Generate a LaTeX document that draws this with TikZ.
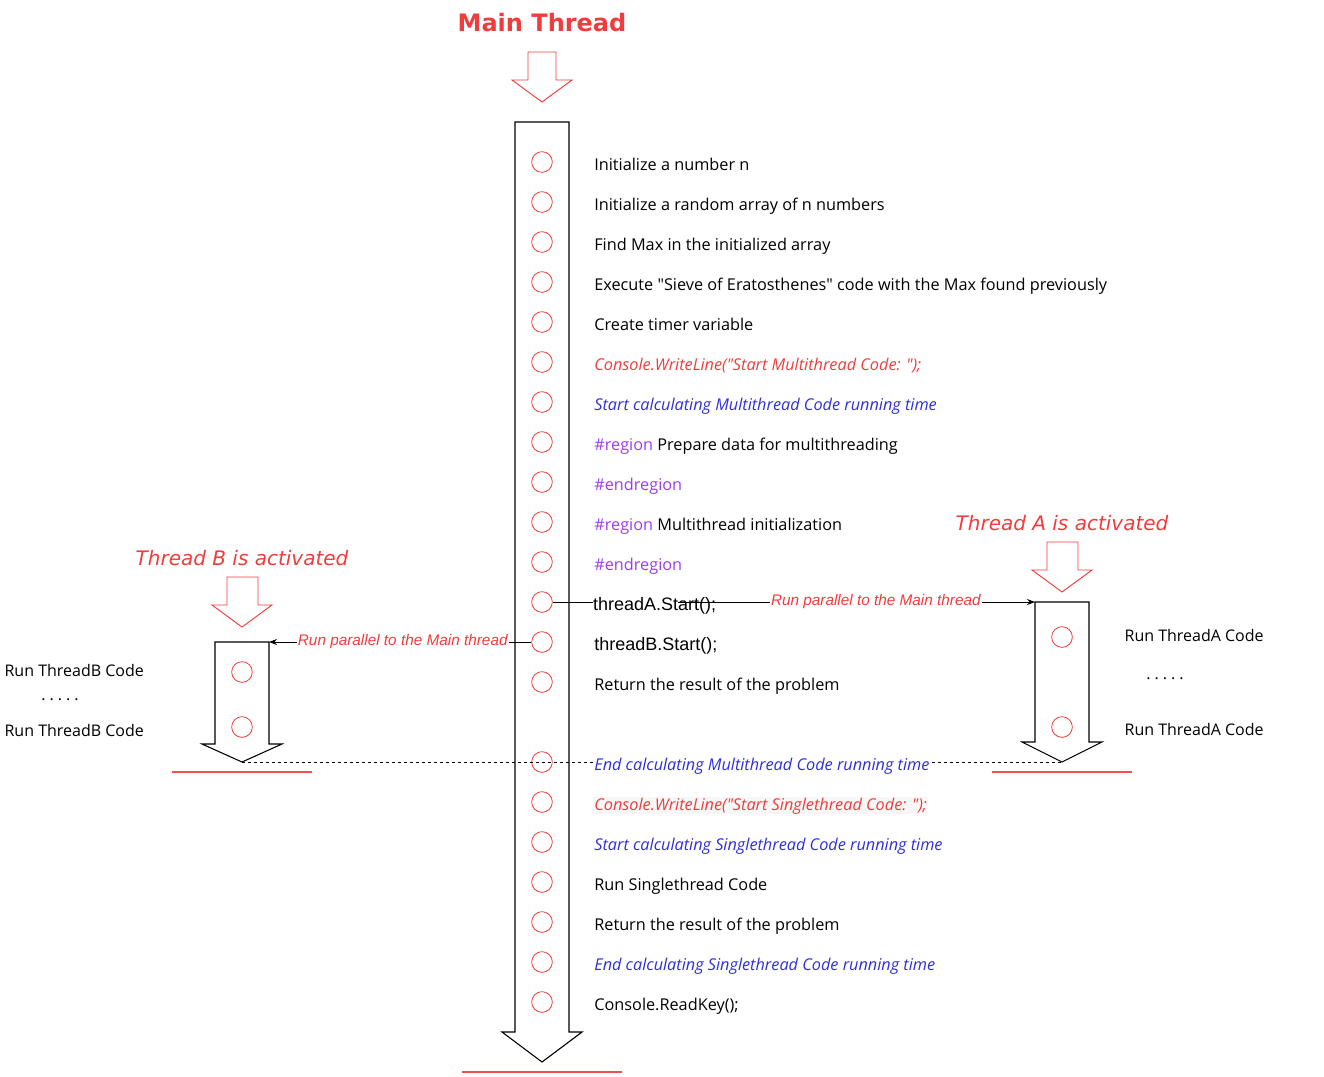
\documentclass[tikz,border=0pt]{standalone}
\usepackage{fontspec}
\setmainfont{Open Sans}[Ligatures=TeXOff]
\newfontfamily\arialfont{Liberation Sans}
\newfontfamily\titlefont{DejaVu Sans}
\usepackage{xcolor}
\usepackage{tikz}
\usetikzlibrary{arrows.meta,positioning}

\definecolor{mainred}{HTML}{F03C3C}
\definecolor{codeblue}{HTML}{2E2EDC}
\definecolor{regionpurple}{HTML}{9B3DF2}

\begin{document}
\begin{tikzpicture}[
    x=0.75pt, y=-0.75pt,
    >={Stealth[length=6pt,width=4.5pt]},
    dot/.style={draw=mainred, circle, minimum size=15.5pt, inner sep=0pt, line width=0.6pt},
    stmt/.style={anchor=west, inner sep=1pt, yshift=-2.5pt, text height=9pt, text depth=2pt, font=\fontsize{12.2}{14}\selectfont},
    redstmt/.style={stmt, text=mainred, font=\fontsize{12.2}{14}\selectfont\itshape},
    bluestmt/.style={stmt, text=codeblue, font=\fontsize{12.2}{14}\selectfont\itshape},
    callstmt/.style={stmt, font=\fontsize{13.5}{16}\arialfont},
    sidetext/.style={anchor=west, inner sep=1pt, font=\fontsize{12}{14}\selectfont},
    hollow/.style={draw, fill=white, line width=0.8pt, line join=miter},
    redhollow/.style={draw=mainred, fill=white, line width=0.7pt},
    endline/.style={draw=mainred!90, line width=1.5pt},
    par/.style={fill=white, inner sep=1pt, text=mainred, font=\fontsize{11.5}{13}\arialfont\itshape},
    link/.style={->, line width=0.7pt},
    title/.style={text=mainred, font=\fontsize{15}{18}\titlefont\itshape}
]
\useasboundingbox (0,0) rectangle (1324,1076);

% Main thread
\node[text=mainred, font=\fontsize{18}{22}\titlefont\bfseries] (maintitle) at (542,23) {Main Thread};
\draw[redhollow] (528,52) -- (556,52) -- (556,80) -- (572,80) -- (542,102) -- (512,80) -- (528,80) -- cycle;
\draw[hollow] (515,122) -- (569,122) -- (569,1032) -- (582,1032) -- (542,1062) -- (502,1032) -- (515,1032) -- cycle;
\draw[endline] (462,1072) -- (622,1072);

% Thread B (left)
\node[title] (btitle) at (242,558) {Thread B is activated};
\draw[redhollow] (227,577) -- (258,577) -- (258,605) -- (272,605) -- (242,627) -- (212,605) -- (227,605) -- cycle;
\draw[hollow] (215,642) -- (269,642) -- (269,744) -- (282,744) -- (242,762) -- (202,744) -- (215,744) -- cycle;
\draw[endline] (172,772) -- (312,772);
\coordinate (btop) at (269,642);
\coordinate (btip) at (242,762);
\node[dot] (b1) at (242,672) {};
\node[dot] (b2) at (242,727) {};
\node[sidetext] (bcode1) at (3,670) {Run ThreadB Code};
\node[sidetext] (bcode2) at (3,730) {Run ThreadB Code};
\node[inner sep=0pt, font=\fontsize{12}{14}\selectfont] (bdots) at (60,700) {{\addfontfeature{LetterSpace=25}.....}};

% Thread A (right)
\node[title] (atitle) at (1062,523) {Thread A is activated};
\draw[redhollow] (1047,542) -- (1078,542) -- (1078,570) -- (1092,570) -- (1062,592) -- (1032,570) -- (1047,570) -- cycle;
\draw[hollow] (1035,602) -- (1089,602) -- (1089,742) -- (1102,742) -- (1062,762) -- (1022,742) -- (1035,742) -- cycle;
\draw[endline] (992,772) -- (1132,772);
\coordinate (atop) at (1035,602);
\coordinate (atip) at (1062,762);
\node[dot] (a1) at (1062,637) {};
\node[dot] (a2) at (1062,727) {};
\node[sidetext] (acode1) at (1123,635) {Run ThreadA Code};
\node[sidetext] (acode2) at (1123,729) {Run ThreadA Code};
\node[inner sep=0pt, font=\fontsize{12}{14}\selectfont] (adots) at (1165,679) {{\addfontfeature{LetterSpace=25}.....}};

% Statement markers on the main thread
\foreach \i in {1,...,21} {
  \pgfmathtruncatemacro\yy{\i<15 ? 122+40*\i : 162+40*\i}
  \node[dot] (c\i) at (542,\yy) {};
}

% Connectors
\draw[dashed, dash pattern=on 2.5pt off 2pt, line width=0.6pt] (btip) -- (atip);
\draw[link] (c12.east) -- node[par, pos=0.67]{Run parallel to the Main thread} (atop);
\draw[link] (c13.west) -- node[par, pos=0.49]{Run parallel to the Main thread} (btop);

% Statements
\node[stmt, right=30pt of c1] (t1) {Initialize a number n};
\node[stmt, right=30pt of c2] (t2) {Initialize a random array of n numbers};
\node[stmt, right=30pt of c3] (t3) {Find Max in the initialized array};
\node[stmt, right=30pt of c4] (t4) {Execute "Sieve of Eratosthenes" code with the Max found previously};
\node[stmt, right=30pt of c5] (t5) {Create timer variable};
\node[redstmt, right=30pt of c6] (t6) {Console.WriteLine("Start Multithread Code: ");};
\node[bluestmt, right=30pt of c7] (t7) {Start calculating Multithread Code running time};
\node[stmt, right=30pt of c8] (t8) {\textcolor{regionpurple}{\#region} Prepare data for multithreading};
\node[stmt, right=30pt of c9, text=regionpurple] (t9) {\#endregion};
\node[stmt, right=30pt of c10] (t10) {\textcolor{regionpurple}{\#region} Multithread initialization};
\node[stmt, right=30pt of c11, text=regionpurple] (t11) {\#endregion};
\node[callstmt, right=30pt of c12, fill=white, inner xsep=0pt] (t12) {threadA.St\rlap{art();}};
\node[callstmt, right=30pt of c13] (t13) {threadB.Start();};
\node[stmt, right=30pt of c14] (t14) {Return the result of the problem};
\node[bluestmt, right=30pt of c15, fill=white] (t15) {End calculating Multithread Code running time};
\node[redstmt, right=30pt of c16, fill=black!3] (t16) {Console.WriteLine("Start Singlethread Code: ");};
\node[bluestmt, right=30pt of c17] (t17) {Start calculating Singlethread Code running time};
\node[stmt, right=30pt of c18] (t18) {Run Singlethread Code};
\node[stmt, right=30pt of c19] (t19) {Return the result of the problem};
\node[bluestmt, right=30pt of c20] (t20) {End calculating Singlethread Code running time};
\node[stmt, right=30pt of c21] (t21) {Console.ReadKey();};

\end{tikzpicture}
\end{document}
